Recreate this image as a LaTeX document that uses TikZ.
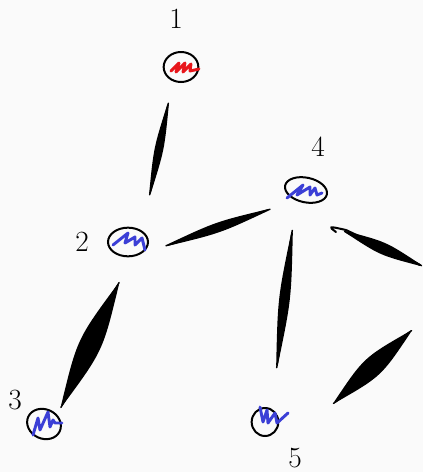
\documentclass[tikz,border=0pt]{standalone}
\usetikzlibrary{shapes.geometric,calc}
\definecolor{bg}{HTML}{FAFAFA}
\definecolor{inkblue}{HTML}{3B3FD6}
\definecolor{inkred}{HTML}{E8161B}
\tikzset{
  vtx/.style={ellipse,draw=black,line width=1.5pt,inner sep=0pt},
  lbl/.style={font=\fontsize{22}{22}\selectfont},
  zig/.style={line width=2.2pt,line cap=round,line join=round},
  edgeink/.style={fill=black,draw=black,line width=1.2pt,line join=round,line cap=round},
  hair/.style={line width=1.1pt,line cap=round}
}
\newcommand{\lensstroke}[3]{%
  \filldraw[edgeink] (#1) .. controls ($(#1)!0.5!(#2)!#3!90:(#2)$) .. (#2)
     .. controls ($(#1)!0.5!(#2)!#3!-90:(#2)$) .. (#1) -- cycle;
  \draw[hair] ($(#1)!0.5!(#2)!#3*0.6!90:(#2)$) -- ($(#2)!-0.02!(#1)$);
  \draw[hair] ($(#1)!0.5!(#2)!#3*0.6!-90:(#2)$) -- ($(#1)!-0.02!(#2)$);}
\begin{document}
\begin{tikzpicture}[x=0.75pt,y=-0.75pt]
\fill[bg] (0,0) rectangle (423,472);
\useasboundingbox (0,0) rectangle (423,472);
% vertices
\node[vtx,minimum width=26pt,minimum height=22.5pt] (n1) at (181,67) {};
\node[vtx,minimum width=30pt,minimum height=21.5pt] (n2) at (128,242) {};
\node[vtx,minimum width=26pt,minimum height=22pt,rotate=-25] (n3) at (44,424) {};
\node[vtx,minimum width=32pt,minimum height=18.5pt,rotate=-12] (n4) at (306,190) {};
\node[vtx,minimum width=20pt,minimum height=21pt] (n5) at (265,422) {};
% labels
\node[lbl] (l1) at (176,19) {1};
\node[lbl] (l2) at (82,242) {2};
\node[lbl] (l3) at (15,400) {3};
\node[lbl] (l4) at (318,147) {4};
\node[lbl] (l5) at (295,458) {5};
% scribbles
\draw[zig,inkred] ($(n1)+(-10,4)$) -- ++(8,-8) -- ++(-3,9) -- ++(9,-9) -- ++(-2,9) -- ++(8,-8) -- ++(-1,7) -- ++(9,-2);
\draw[zig,inkblue] ($(n2)+(-15,3)$) -- ++(15,-12) -- ++(-3,10) -- ++(10,-6) -- ++(0,8) -- ++(7,-7) -- ++(3,12);
\draw[zig,inkblue] ($(n3)+(-11,11)$) -- ++(5,-17) -- ++(2,12) -- ++(8,-18) -- ++(2,15) -- ++(3,-7) -- ++(2,3) -- ++(7,0);
\draw[zig,inkblue] ($(n4)+(-19,8)$) -- ++(16,-13) -- ++(-6,10) -- ++(13,-8) -- ++(0,8) -- ++(5,-7) -- ++(2,7) -- ++(5,-2);
\draw[zig,inkblue] ($(n5)+(-5,-15)$) -- ++(3,15) -- ++(4,-12) -- ++(1,13) -- ++(7,-10) -- ++(2,10) -- ++(11,-10);
% connector end points
\coordinate (a12) at ($(n1)+(-13,38)$);
\coordinate (b12) at ($(n2)+(22,-49)$);
\coordinate (a24) at ($(n2)+(40,3)$);
\coordinate (b24) at ($(n4)+(-38,20)$);
\coordinate (a23) at ($(n2)+(-10,43)$);
\coordinate (b23) at ($(n3)+(18,-19)$);
\coordinate (a45) at ($(n4)+(-14,43)$);
\coordinate (b45) at ($(n5)+(12,-57)$);
\coordinate (a4r) at ($(n4)+(30,42)$);
\coordinate (b4r) at ($(n4)+(114,75)$);
\coordinate (a5r) at ($(n5)+(145,-90)$);
\coordinate (b5r) at ($(n5)+(70,-20)$);
% connectors
\lensstroke{a12}{b12}{3.5pt}
\lensstroke{a24}{b24}{4pt}
\lensstroke{a23}{b23}{10pt}
\lensstroke{a45}{b45}{4.5pt}
\lensstroke{b5r}{a5r}{9pt}
\draw[line width=1.5pt,line cap=round,line join=round] (a4r) .. controls ($(a4r)+(-8,-6)$) .. ($(a4r)+(10,-2)$) -- (b4r);
\lensstroke{$(a4r)+(10,0)$}{b4r}{5pt}
\end{tikzpicture}
\end{document}
